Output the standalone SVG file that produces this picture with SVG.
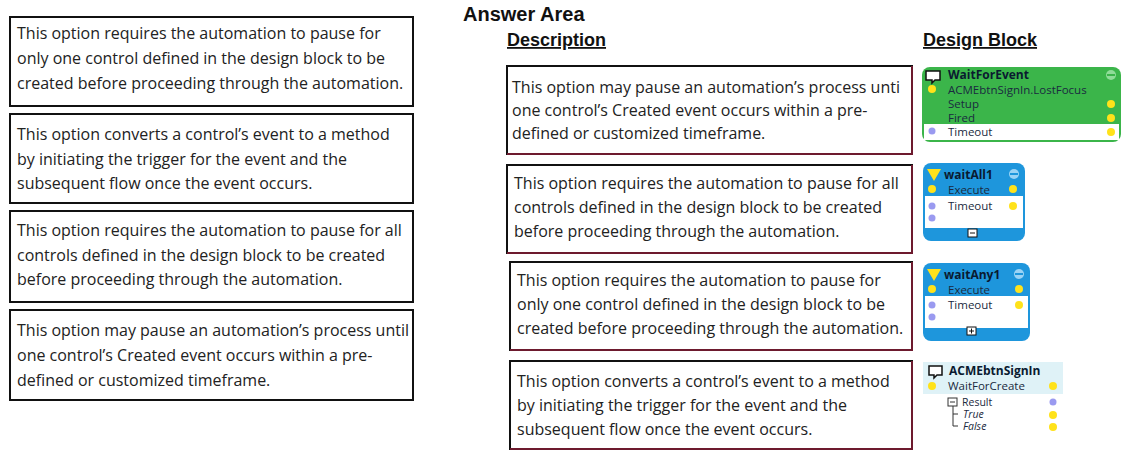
<svg xmlns="http://www.w3.org/2000/svg" width="1127" height="473" viewBox="0 0 1127 473">
<style>
.t{font-family:"Open Sans","Noto Sans",sans-serif;font-size:16px;fill:#222}
.box{fill:#fff;stroke:#111;stroke-width:2}
.rb{fill:none;stroke:#6d1a2e;stroke-width:2}
.h{font-family:"Liberation Sans",Arial,sans-serif;font-weight:bold;fill:#111}
.b{font-family:"Open Sans","Noto Sans",sans-serif;font-size:11.5px;fill:#1a2a40}
.s{font-family:"Open Sans","Noto Sans",sans-serif;font-size:10.5px;fill:#1a2a40}
.bt{font-family:"Open Sans","Noto Sans",sans-serif;font-size:12px;font-weight:bold;fill:#0a1a30}
.y{fill:#ffe21a}
.p{fill:#9a9af0}
</style>
<text class="h" x="463" y="21" font-size="20">Answer Area</text>
<text class="h" x="507" y="46" font-size="18" text-decoration="underline">Description</text>
<text class="h" x="923" y="46" font-size="18" text-decoration="underline">Design Block</text>

<g id="opt1"><rect class="box" x="10" y="17" width="403" height="89"/>
<text class="t"><tspan x="17" y="39">This option requires the automation to pause for</tspan><tspan x="17" y="64">only one control defined in the design block to be</tspan><tspan x="17" y="89">created before proceeding through the automation.</tspan></text></g>
<g id="opt2"><rect class="box" x="10" y="114" width="403" height="89"/>
<text class="t"><tspan x="17" y="140">This option converts a control’s event to a method</tspan><tspan x="17" y="165">by initiating the trigger for the event and the</tspan><tspan x="17" y="189">subsequent flow once the event occurs.</tspan></text></g>
<g id="opt3"><rect class="box" x="10" y="211" width="403" height="91"/>
<text class="t"><tspan x="17" y="236">This option requires the automation to pause for all</tspan><tspan x="17" y="261">controls defined in the design block to be created</tspan><tspan x="17" y="285">before proceeding through the automation.</tspan></text></g>
<g id="opt4"><rect class="box" x="10" y="310" width="403" height="90"/>
<text class="t"><tspan x="17" y="336">This option may pause an automation’s process until</tspan><tspan x="17" y="361">one control’s Created event occurs within a pre-</tspan><tspan x="17" y="386">defined or customized timeframe.</tspan></text></g>

<g id="ans1"><rect class="box" x="507" y="66" width="405" height="88"/><path class="rb" d="M912 66V154H507"/>
<text class="t"><tspan x="512" y="93">This option may pause an automation’s process unti</tspan><tspan x="512" y="116">one control’s Created event occurs within a pre-</tspan><tspan x="512" y="139">defined or customized timeframe.</tspan></text></g>
<g id="ans2"><rect class="box" x="507" y="165" width="405" height="88"/><path class="rb" d="M912 165V253H507"/>
<text class="t"><tspan x="514" y="189">This option requires the automation to pause for all</tspan><tspan x="514" y="213">controls defined in the design block to be created</tspan><tspan x="514" y="237">before proceeding through the automation.</tspan></text></g>
<g id="ans3"><rect class="box" x="510" y="262" width="402" height="88"/><path class="rb" d="M912 262V350H510"/>
<text class="t"><tspan x="517" y="286">This option requires the automation to pause for</tspan><tspan x="517" y="310">only one control defined in the design block to be</tspan><tspan x="517" y="334">created before proceeding through the automation.</tspan></text></g>
<g id="ans4"><rect class="box" x="510" y="361" width="402" height="88"/><path class="rb" d="M912 361V449H510"/>
<text class="t"><tspan x="517" y="387">This option converts a control’s event to a method</tspan><tspan x="517" y="411">by initiating the trigger for the event and the</tspan><tspan x="517" y="435">subsequent flow once the event occurs.</tspan></text></g>

<g id="waitForEvent">
<rect x="922" y="67" width="199" height="75" rx="8" fill="#3bb54a"/>
<rect x="924" y="124" width="195" height="16" fill="#fff"/>
<path d="M926 71h14v9h-5l-3 3v-3h-6z" fill="#fff" stroke="#111" stroke-width="1.5"/>
<text class="bt" x="948" y="79">WaitForEvent</text>
<text class="b" x="948" y="94">ACMEbtnSignIn.LostFocus</text>
<text class="b" x="948" y="108">Setup</text>
<text class="b" x="948" y="122">Fired</text>
<text class="b" x="948" y="136">Timeout</text>
<circle cx="1111" cy="75" r="5" fill="#8fdc98"/><rect x="1107" y="74" width="8" height="2" fill="#3bb54a"/>
<circle class="y" cx="932" cy="89" r="4"/><circle class="y" cx="1111" cy="104" r="4"/><circle class="y" cx="1111" cy="118" r="4"/><circle class="y" cx="1111" cy="132" r="4"/><circle class="p" cx="932" cy="131" r="3.5"/>
</g>
<g id="waitAll1">
<rect x="923" y="163" width="102" height="78" rx="8" fill="#1e96dc"/>
<rect x="925" y="196" width="98" height="32" fill="#fff"/>
<path d="M927 169h14l-7 12z" fill="#ffe21a"/>
<text class="bt" x="944" y="179">waitAll1</text>
<text class="b" x="948" y="194">Execute</text>
<text class="b" x="948" y="210">Timeout</text>
<circle cx="1014" cy="174" r="5" fill="#9ad3f5"/><rect x="1010" y="173" width="8" height="2" fill="#1e96dc"/>
<circle class="y" cx="932" cy="189" r="4"/><circle class="y" cx="1013" cy="189" r="4"/><circle class="y" cx="1013" cy="206" r="4"/>
<circle class="p" cx="932" cy="206" r="3.5"/><circle class="p" cx="932" cy="218" r="3.5"/>
<rect x="968" y="229" width="9" height="8" fill="#fff" stroke="#111"/><path d="M970 233h5" stroke="#111"/>
</g>
<g id="waitAny1">
<rect x="923" y="263" width="107" height="78" rx="8" fill="#1e96dc"/>
<rect x="925" y="296" width="103" height="32" fill="#fff"/>
<path d="M927 269h14l-7 12z" fill="#ffe21a"/>
<text class="bt" x="944" y="279">waitAny1</text>
<text class="b" x="948" y="294">Execute</text>
<text class="b" x="948" y="309">Timeout</text>
<circle cx="1019" cy="274" r="5" fill="#9ad3f5"/><rect x="1015" y="273" width="8" height="2" fill="#1e96dc"/>
<circle class="y" cx="932" cy="289" r="4"/><circle class="y" cx="1019" cy="289" r="4"/><circle class="y" cx="1019" cy="305" r="4"/>
<circle class="p" cx="932" cy="305" r="3.5"/><circle class="p" cx="932" cy="317" r="3.5"/>
<rect x="967" y="327" width="9" height="8" fill="#fff" stroke="#111"/><path d="M969 331h5M971.5 328.5v5" stroke="#111"/>
</g>
<g id="acmeBtnSignIn">
<rect x="923" y="362" width="140" height="32" fill="#dff2f7"/>
<path d="M929 366h13v9h-5l-3 3v-3h-5z" fill="#fff" stroke="#111" stroke-width="1.5"/>
<text class="bt" x="949" y="375">ACMEbtnSignIn</text>
<text class="b" x="948" y="390">WaitForCreate</text>
<circle class="y" cx="932" cy="386" r="4"/><circle class="y" cx="1053" cy="386" r="4"/>
<rect x="948" y="398" width="9" height="8" fill="#fff" stroke="#333"/><path d="M950 402h5M953 406v20h5M953 414h5" stroke="#333" fill="none"/>
<text class="s" x="962" y="406">Result</text>
<text class="s" x="963" y="418" font-style="italic">True</text>
<text class="s" x="963" y="430" font-style="italic">False</text>
<circle class="p" cx="1053" cy="402" r="3.5"/><circle class="y" cx="1053" cy="415" r="4"/><circle class="y" cx="1053" cy="427" r="4"/>
</g>
</svg>
